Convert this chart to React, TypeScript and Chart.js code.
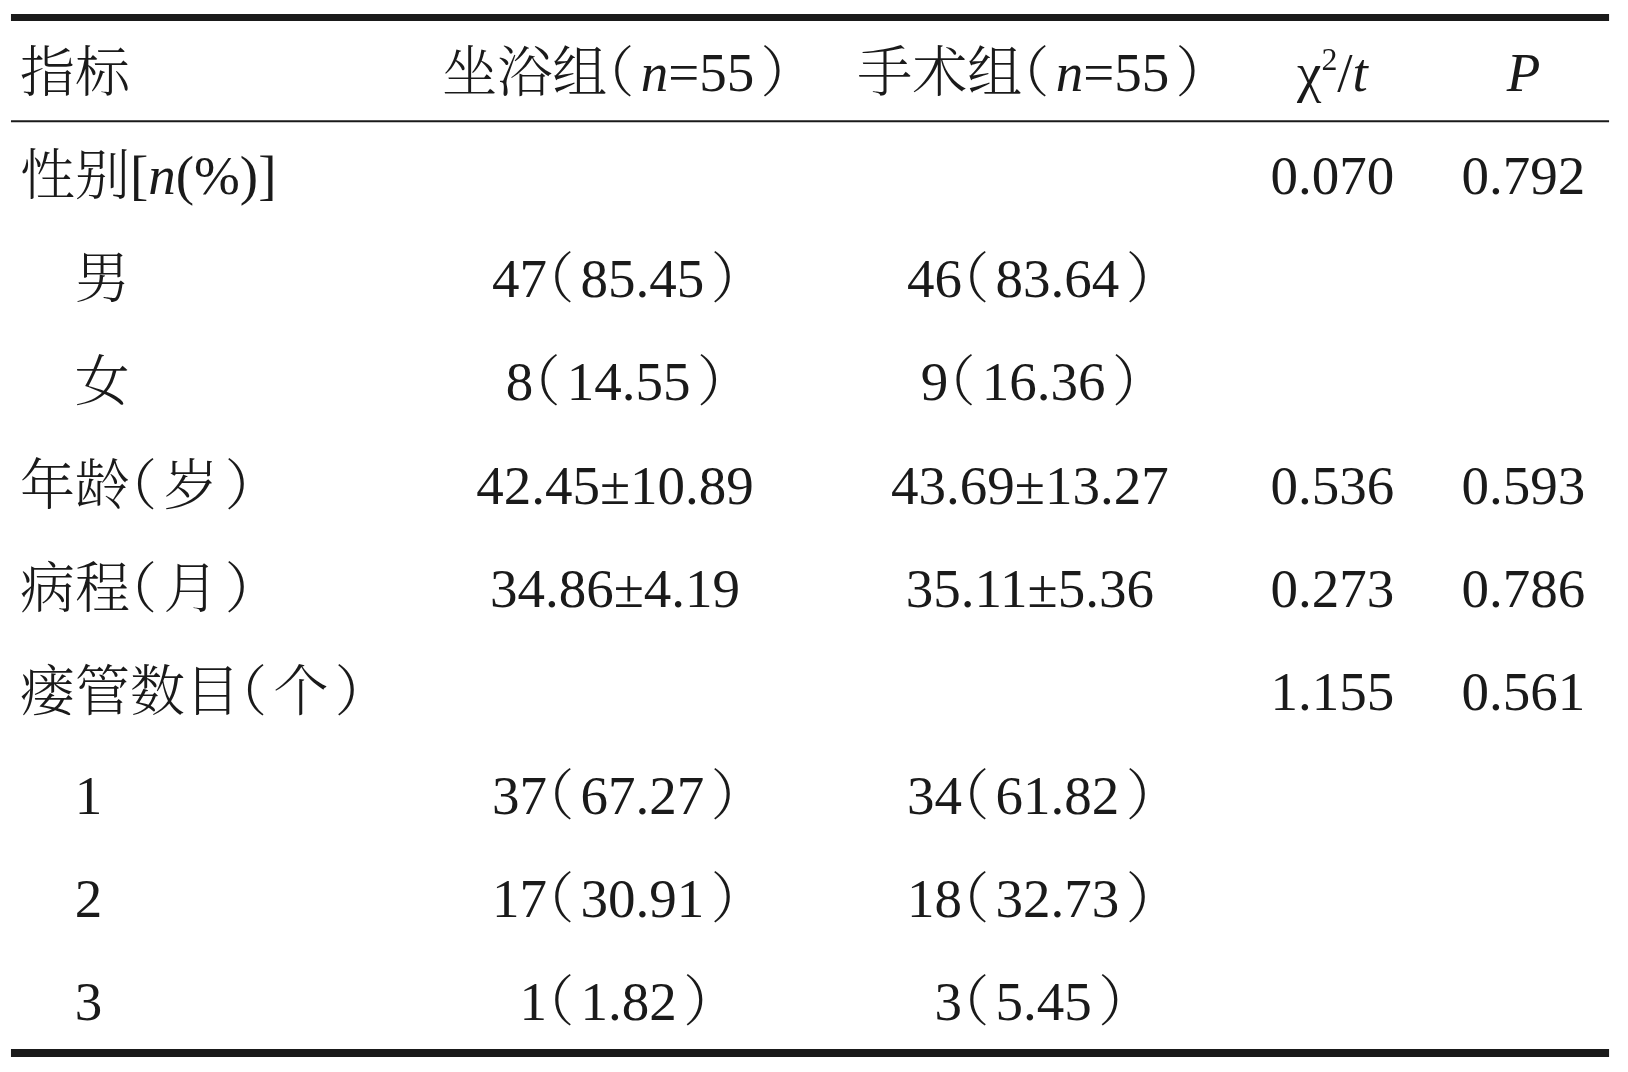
import React, { useEffect, useRef } from 'react';
import { Chart, registerables } from 'chart.js';

Chart.register(...registerables);

// ---------- data (markup: _x_ = italic, ^x^ = superscript) ----------
const headers = ['指标', '坐浴组（_n_=55）', '手术组（_n_=55）', 'χ^2^/_t_', '_P_'];
const indicators = ['性别[_n_(%)]', '男', '女', '年龄（岁）', '病程（月）', '瘘管数目（个）', '1', '2', '3'];
const indented = [false, true, true, false, false, false, true, true, true];
const bathGroup = ['', '47（85.45）', '8（14.55）', '42.45±10.89', '34.86±4.19', '', '37（67.27）', '17（30.91）', '1（1.82）'];
const surgeryGroup = ['', '46（83.64）', '9（16.36）', '43.69±13.27', '35.11±5.36', '', '34（61.82）', '18（32.73）', '3（5.45）'];
const statValues = ['0.070', '', '', '0.536', '0.273', '1.155', '', '', ''];
const pValues = ['0.792', '', '', '0.593', '0.786', '0.561', '', '', ''];

// ---------- layout / style ----------
const W = 1628;
const H = 1072;
const FONT_SIZE = 55;
const LATIN = '"Liberation Serif", "Times New Roman", serif';
const CJK = '"Noto Serif CJK SC", "Noto Sans CJK SC", sans-serif';
const CJK_WEIGHT = '300';
const INK = '#1a1a1a';
const COL_X = [16, 614, 1031, 1335, 1527];
const INDENT_X = 71;
const ROW_PITCH = 104.1;
const FIRST_BASELINE = 191;
const Y_MIN = -FIRST_BASELINE / ROW_PITCH;
const Y_MAX = Y_MIN + H / ROW_PITCH;
const HEADER_ROW = -0.99;
const RULES = [
  { row: -1.705, width: 7 },
  { row: -0.701, width: 2 },
  { row: 8.319, width: 8 },
];
const RULE_X = [7, 1613];

type Seg = { text: string; italic: boolean; sup: boolean };

function parse(s: string): Seg[] {
  const out: Seg[] = [];
  let italic = false;
  let sup = false;
  let buf = '';
  const flush = () => {
    if (buf) out.push({ text: buf, italic, sup });
    buf = '';
  };
  for (const ch of s) {
    if (ch === '_') { flush(); italic = !italic; }
    else if (ch === '^') { flush(); sup = !sup; }
    else buf += ch;
  }
  flush();
  return out;
}

const isCJK = (ch: string) => ch.codePointAt(0)! >= 0x2e80;
const isParen = (ch: string) => ch === '（' || ch === '）';

type Piece = { text: string; font: string; dx: number; dy: number };

function layout(ctx: CanvasRenderingContext2D, s: string): { pieces: Piece[]; width: number } {
  const pieces: Piece[] = [];
  let x = 0;
  for (const seg of parse(s)) {
    const size = seg.sup ? FONT_SIZE * 0.58 : FONT_SIZE;
    const dy = seg.sup ? -FONT_SIZE * 0.38 : 0;
    const runs: { text: string; cjk: boolean }[] = [];
    for (const ch of seg.text) {
      const c = isCJK(ch);
      const last = runs[runs.length - 1];
      if (last && last.cjk === c && !isParen(ch) && !isParen(last.text)) last.text += ch;
      else runs.push({ text: ch, cjk: c });
    }
    for (const run of runs) {
      const font = run.cjk
        ? `${CJK_WEIGHT} ${size}px ${CJK}`
        : `${seg.italic ? 'italic ' : ''}${size}px ${LATIN}`;
      ctx.font = font;
      const m = ctx.measureText(run.text);
      if (isParen(run.text)) {
        const open = run.text === '（';
        const padL = (open ? 0.13 : 0.17) * size;
        const padR = (open ? 0.17 : 0.13) * size;
        const inkL = m.actualBoundingBoxLeft;
        const inkW = m.actualBoundingBoxLeft + m.actualBoundingBoxRight;
        pieces.push({ text: run.text, font, dx: x + padL + inkL, dy });
        x += padL + inkW + padR;
      } else {
        pieces.push({ text: run.text, font, dx: x, dy });
        x += m.width;
      }
    }
  }
  return { pieces, width: x };
}

function drawRich(ctx: CanvasRenderingContext2D, s: string, px: number, py: number, align: 'left' | 'center') {
  const { pieces, width } = layout(ctx, s);
  const x0 = align === 'center' ? px - width / 2 : px;
  ctx.textAlign = 'left';
  ctx.textBaseline = 'alphabetic';
  for (const p of pieces) {
    ctx.font = p.font;
    ctx.fillText(p.text, x0 + p.dx, py + p.dy);
  }
}

const tablePlugin = {
  id: 'tableText',
  afterDatasetsDraw(chart: any) {
    const { ctx } = chart;
    const xs = chart.scales.x;
    const ys = chart.scales.y;
    ctx.save();
    ctx.fillStyle = INK;
    headers.forEach((h, c) => {
      drawRich(ctx, h, xs.getPixelForValue(COL_X[c]), ys.getPixelForValue(HEADER_ROW), c === 0 ? 'left' : 'center');
    });
    const columns = [indicators, bathGroup, surgeryGroup, statValues, pValues];
    indicators.forEach((_, r) => {
      columns.forEach((col, c) => {
        const txt = col[r];
        if (!txt) return;
        const xv = c === 0 ? (indented[r] ? INDENT_X : COL_X[0]) : COL_X[c];
        drawRich(ctx, txt, xs.getPixelForValue(xv), ys.getPixelForValue(r), c === 0 ? 'left' : 'center');
      });
    });
    ctx.restore();
  },
};

export default function App() {
  const canvasRef = useRef<HTMLCanvasElement | null>(null);

  useEffect(() => {
    document.body.style.margin = '0';
    document.body.style.overflow = 'hidden';
    document.body.style.background = '#ffffff';
    const canvas = canvasRef.current;
    if (!canvas) return;
    const chart = new Chart(canvas, {
      type: 'scatter',
      data: {
        datasets: RULES.map((rule) => ({
          data: RULE_X.map((x) => ({ x, y: rule.row })),
          showLine: true,
          borderColor: INK,
          borderWidth: rule.width,
          borderCapStyle: 'butt' as const,
          pointRadius: 0,
          pointHoverRadius: 0,
          fill: false,
        })),
      },
      options: {
        responsive: false,
        animation: false,
        events: [],
        layout: { padding: 0 },
        plugins: {
          legend: { display: false },
          tooltip: { enabled: false },
        },
        scales: {
          x: { type: 'linear', min: 0, max: W, display: false },
          y: { type: 'linear', min: Y_MIN, max: Y_MAX, reverse: true, display: false },
        },
      },
      plugins: [tablePlugin],
    });
    const fontsReady = Promise.all([
      document.fonts.load(`${CJK_WEIGHT} ${FONT_SIZE}px "Noto Sans CJK SC"`, '指标（'),
      document.fonts.load(`${FONT_SIZE}px "Liberation Serif"`, '0.5'),
      document.fonts.load(`italic ${FONT_SIZE}px "Liberation Serif"`, 'nP'),
    ]);
    fontsReady.then(() => chart.update()).catch(() => {});
    return () => chart.destroy();
  }, []);

  return (
    <div style={{ width: W, height: H, background: '#ffffff' }}>
      <canvas ref={canvasRef} width={W} height={H} style={{ width: W, height: H, display: 'block' }} />
    </div>
  );
}
